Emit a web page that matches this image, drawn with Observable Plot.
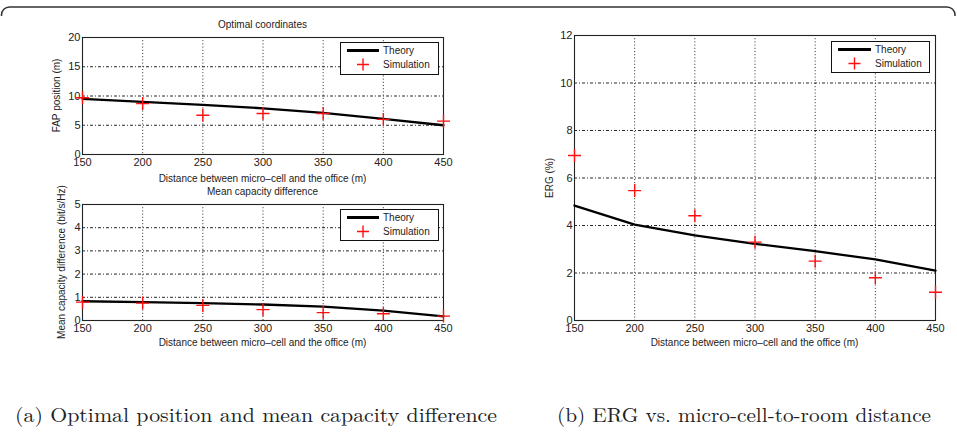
<!DOCTYPE html>
<html><head><meta charset="utf-8">
<script src="https://cdn.jsdelivr.net/npm/d3@7"></script>
<script src="https://cdn.jsdelivr.net/npm/@observablehq/plot@0.6"></script>
<style>
body{margin:0;background:#fff;}
#wrap{position:relative;width:957px;height:432px;overflow:hidden;background:#fff;}
#wrap > svg{position:absolute;}
</style></head><body><div id="wrap"></div>
<script>
// ---- data ----
const distance   = [150, 200, 250, 300, 350, 400, 450];
const fapTheory  = [9.5, 9.0, 8.5, 7.9, 7.1, 6.1, 5.0];
const fapSim     = [9.7, 8.7, 6.7, 7.0, 7.0, 6.0, 5.7];
const capTheory  = [0.83, 0.79, 0.75, 0.69, 0.60, 0.43, 0.18];
const capSim     = [0.79, 0.75, 0.65, 0.47, 0.34, 0.29, 0.19];
const ergTheory  = [4.84, 4.04, 3.58, 3.23, 2.92, 2.57, 2.10];
const ergSim     = [6.95, 5.47, 4.41, 3.30, 2.50, 1.80, 1.19];

const xTicks   = [150, 200, 250, 300, 350, 400, 450];
const fapTicks = [0, 5, 10, 15, 20];
const capTicks = [0, 1, 2, 3, 4, 5];
const ergTicks = [0, 2, 4, 6, 8, 10, 12];

const seriesNames = ["Theory", "Simulation"];
const xLabel = "Distance between micro\u2013cell and the office (m)";
const titleA = "Optimal coordinates";
const titleB = "Mean capacity difference";
const yLabelA = "FAP position (m)";
const yLabelB = "Mean capacity difference (bit/s/Hz)";
const yLabelC = "ERG (%)";
const captionA = "(a) Optimal position and mean capacity difference";
const captionB = "(b) ERG vs. micro-cell-to-room distance";

const FONT = "'Liberation Sans', Arial, Helvetica, sans-serif";
const RED = "#ff1010";

const plusSymbol = {
  draw(ctx, size) {
    const r = Math.sqrt(size / Math.PI);
    ctx.moveTo(-r, 0); ctx.lineTo(r, 0);
    ctx.moveTo(0, -r); ctx.lineTo(0, r);
  }
};

const wrap = document.getElementById("wrap");
const intFmt = d => String(d);

function panel({left, top, width, height, mt, mr, mb, ml, yDomain, yTicks, theory, sim}) {
  const rows = distance.map((d, i) => ({d, theory: theory[i], sim: sim[i]}));
  const chart = Plot.plot({
    width, height,
    marginTop: mt, marginRight: mr, marginBottom: mb, marginLeft: ml,
    x: {domain: [150, 450], ticks: xTicks, tickFormat: intFmt, tickSize: 0, tickPadding: 4, label: null},
    y: {domain: yDomain, ticks: yTicks, tickFormat: intFmt, tickSize: 0, tickPadding: 2, label: null},
    style: {background: "transparent", overflow: "visible", fontFamily: FONT, fontSize: "11px", color: "#222"},
    marks: [
      Plot.ruleX(xTicks.slice(1, -1), {stroke: "#111", strokeDasharray: "1,2.2", strokeWidth: 0.9}),
      Plot.ruleY(yTicks.slice(1, -1), {stroke: "#111", strokeDasharray: "3,2,1,2", strokeWidth: 0.9}),
      Plot.frame({stroke: "#222", strokeWidth: 1.1}),
      Plot.line(rows, {x: "d", y: "theory", stroke: "#000", strokeWidth: 2.3}),
      Plot.dot(rows, {x: "d", y: "sim", symbol: plusSymbol, r: 6.5, stroke: RED, fill: "none", strokeWidth: 1.4})
    ]
  });
  chart.style.left = left + "px";
  chart.style.top = top + "px";
  wrap.appendChild(chart);
}

panel({left: 0, top: 0, width: 480, height: 190, mt: 37, mr: 37, mb: 36, ml: 82,
       yDomain: [0, 20], yTicks: fapTicks, theory: fapTheory, sim: fapSim});
panel({left: 0, top: 180, width: 480, height: 180, mt: 24, mr: 37, mb: 40, ml: 82,
       yDomain: [0, 5], yTicks: capTicks, theory: capTheory, sim: capSim});
panel({left: 480, top: 0, width: 477, height: 360, mt: 35, mr: 22, mb: 40, ml: 94,
       yDomain: [0, 12], yTicks: ergTicks, theory: ergTheory, sim: ergSim});

// ---- overlay: titles, axis labels, legends, captions, border ----
const svg = d3.select(wrap).append("svg")
  .attr("width", 957).attr("height", 432)
  .style("left", "0px").style("top", "0px")
  .style("pointer-events", "none")
  .attr("font-family", FONT);

svg.append("path")
  .attr("d", "M1.5,16 L1.5,15 A8,8 0 0 1 9.5,7 L947,7 A8,8 0 0 1 955,15 L955,16")
  .attr("fill", "none").attr("stroke", "#333").attr("stroke-width", 1.5);

function label(x, y, text, rotate) {
  const t = svg.append("text").attr("fill", "#222").attr("font-size", 10)
    .attr("text-anchor", "middle").attr("dominant-baseline", "central").text(text);
  if (rotate) t.attr("transform", `translate(${x},${y}) rotate(-90)`);
  else t.attr("x", x).attr("y", y);
}
label(262.5, 24, titleA);
label(262.5, 178, xLabel);
label(262.5, 191, titleB);
label(262.5, 342, xLabel);
label(754.5, 342, xLabel);
label(56, 95.5, yLabelA, true);
label(61, 262, yLabelB, true);
label(549, 178, yLabelC, true);

function legend(x0, y0, w, h, lx1, lx2) {
  const g = svg.append("g");
  g.append("rect").attr("x", x0).attr("y", y0).attr("width", w).attr("height", h)
    .attr("fill", "#fff").attr("stroke", "#111").attr("stroke-width", 1);
  const ly1 = y0 + 8, ly2 = y0 + 22;
  g.append("line").attr("x1", lx1).attr("x2", lx2).attr("y1", ly1).attr("y2", ly1)
    .attr("stroke", "#000").attr("stroke-width", 3);
  const mx = (lx1 + lx2) / 2;
  g.append("path").attr("d", `M${mx - 6},${ly2} L${mx + 6},${ly2} M${mx},${ly2 - 6} L${mx},${ly2 + 6}`)
    .attr("stroke", RED).attr("stroke-width", 1.4).attr("fill", "none");
  [ly1, ly2].forEach((yy, i) => {
    g.append("text").attr("x", lx2 + 4).attr("y", yy).attr("dominant-baseline", "central")
      .attr("font-size", 10).attr("fill", "#222").text(seriesNames[i]);
  });
}
legend(340.5, 42.5, 98, 32, 347, 379);
legend(340.5, 209.5, 98, 31, 347, 379);
legend(831.5, 41.5, 98, 31, 838, 871);

function caption(x, len, text) {
  svg.append("text").attr("x", x).attr("y", 422)
    .attr("font-family", "'Latin Modern Roman','CMU Serif','Liberation Serif','DejaVu Serif',serif")
    .attr("font-size", 20).attr("fill", "#222")
    .attr("textLength", len).attr("lengthAdjust", "spacingAndGlyphs")
    .text(text);
}
caption(15, 482, captionA);
caption(557, 374, captionB);
</script></body></html>
